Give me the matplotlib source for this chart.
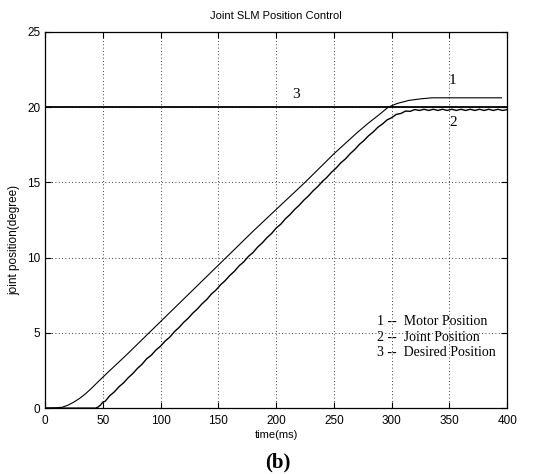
import matplotlib
matplotlib.use("Agg")
import matplotlib.pyplot as plt
import numpy as np

# motor position (curve 1)
motor_t = [0, 10, 15, 20, 25, 30, 35, 40, 45, 50, 55, 60, 70, 80, 90, 100,
           120, 140, 160, 180, 200, 225, 250, 260, 270, 280, 290, 297,
           305, 315, 325, 335, 395]
motor_v = [0, 0.02, 0.06, 0.2, 0.4, 0.65, 0.95, 1.3, 1.68, 2.05, 2.42, 2.78,
           3.5, 4.25, 5.0, 5.75, 7.25, 8.75, 10.25, 11.75, 13.2, 15.0, 16.9,
           17.6, 18.3, 18.95, 19.55, 20.0, 20.25, 20.45, 20.55, 20.62, 20.62]

# joint position (curve 2)
joint_t = [0, 40, 44, 46, 48, 50, 52, 56, 60, 64, 68, 72, 76, 80, 84, 88,
           92, 96, 100, 104, 108, 112, 116, 120, 124, 128, 132, 136, 140,
           144, 148, 152, 156, 160, 164, 168, 172, 176, 180, 184, 188, 192,
           196, 200, 204, 208, 212, 216, 220, 224, 228, 232, 236, 240, 244,
           248, 252, 256, 260, 264, 268, 272, 276, 280, 284, 288, 292, 296,
           300, 304, 308, 312, 316, 320, 324, 328, 332, 336, 340, 344, 348,
           352, 356, 360, 364, 368, 372, 376, 380, 384, 388, 392, 396, 400]
joint_v = [0, 0, 0.0, 0.08, 0.2, 0.4, 0.45, 0.82, 1.08, 1.42, 1.68, 2.02,
           2.3, 2.64, 2.92, 3.28, 3.52, 3.86, 4.12, 4.46, 4.72, 5.08, 5.36,
           5.7, 5.98, 6.32, 6.6, 6.94, 7.22, 7.58, 7.85, 8.2, 8.48, 8.82,
           9.1, 9.46, 9.72, 10.08, 10.34, 10.7, 10.98, 11.32, 11.6, 11.96,
           12.22, 12.58, 12.86, 13.2, 13.48, 13.82, 14.1, 14.44, 14.72,
           15.06, 15.34, 15.68, 15.96, 16.3, 16.56, 16.9, 17.18, 17.52,
           17.78, 18.1, 18.35, 18.66, 18.88, 19.15, 19.3, 19.52, 19.58,
           19.74, 19.72, 19.84, 19.78, 19.86, 19.78, 19.86, 19.78, 19.86,
           19.78, 19.86, 19.78, 19.86, 19.78, 19.86, 19.78, 19.86, 19.78,
           19.86, 19.78, 19.86, 19.78, 19.84]

# desired position (curve 3)
desired_t = [0, 400]
desired_v = [20, 20]

legend_lines = ["1 --  Motor Position", "2 --  Joint Position", "3 --  Desired Position"]
legend_y = [5.78, 4.7, 3.67]

fig = plt.figure(figsize=(5.47, 4.74), dpi=100)
ax = fig.add_axes([0.0823, 0.139, 0.845, 0.7937])

ax.plot(desired_t, desired_v, color="black", linewidth=1.3)
ax.plot(motor_t, motor_v, color="black", linewidth=0.8)
ax.plot(joint_t, joint_v, color="black", linewidth=1.0)

ax.set_xlim(0, 400)
ax.set_ylim(0, 25)
ax.set_xticks(np.arange(0, 401, 50))
ax.set_yticks(np.arange(0, 26, 5))
ax.grid(True, color="black", linestyle=(0, (1, 3)), linewidth=0.6)
ax.tick_params(direction="in", top=True, right=True, length=4, width=0.8,
               labelsize=8.5)
ax.tick_params(axis="x", pad=5)
for lab in ax.get_xticklabels() + ax.get_yticklabels():
    lab.set_family("Liberation Sans")
for s in ax.spines.values():
    s.set_linewidth(0.9)

ax.set_title("Joint SLM Position Control", fontsize=8, family="Liberation Sans", pad=9)
ax.set_xlabel("time(ms)", fontsize=8, family="Liberation Sans", labelpad=2)
ax.set_ylabel("joint position(degree)", fontsize=8.5, family="Liberation Sans")
ax.yaxis.set_label_coords(-0.054, 0.448)

for txt, y in zip(legend_lines, legend_y):
    ax.text(287, y, txt, fontsize=10, family="Liberation Serif", va="center", ha="left")

ax.text(353, 21.8, "1", fontsize=11, family="Liberation Serif", va="center", ha="center")
ax.text(353, 19.0, "2", fontsize=11, family="Liberation Serif", va="center", ha="center")
ax.text(217, 20.85, "3", fontsize=11, family="Liberation Serif", va="center", ha="center")

fig.text(0.507, 0.025, "(b)", fontsize=15, family="Liberation Serif", fontweight="bold",
         ha="center", va="center")

fig.savefig("out.png", dpi=100)
